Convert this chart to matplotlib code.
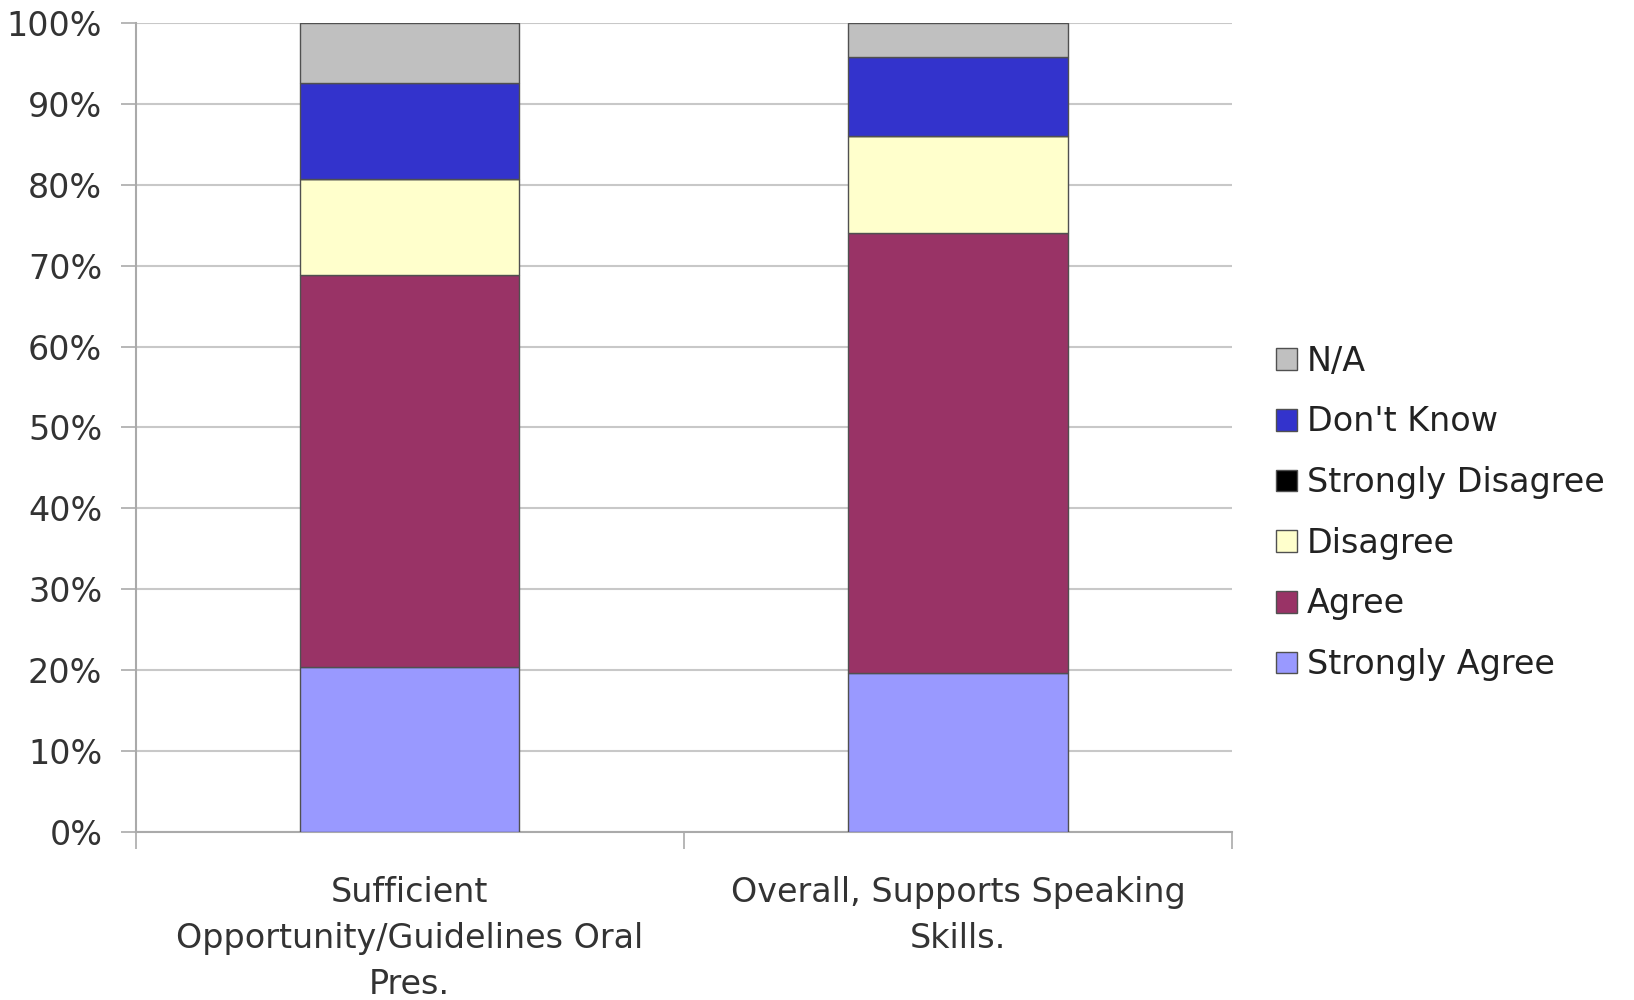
import numpy as np
import matplotlib
matplotlib.use('Agg')
import matplotlib.pyplot as plt

# survey responses, percent of respondents
categories = ['Sufficient\nOpportunity/Guidelines Oral\nPres.',
              'Overall, Supports Speaking\nSkills.']
series = ['Strongly Agree', 'Agree', 'Disagree', 'Strongly Disagree', "Don't Know", 'N/A']
strongly_agree = [20.4, 19.6]
agree = [48.4, 54.4]
disagree = [11.9, 12.0]
strongly_disagree = [0.0, 0.0]
dont_know = [11.9, 9.8]
na = [7.4, 4.2]
values = [strongly_agree, agree, disagree, strongly_disagree, dont_know, na]
colors = ['#9999FF', '#993366', '#FFFFCC', '#000000', '#3333CC', '#C0C0C0']

plt.rcParams['font.family'] = ['DejaVu Sans']
plt.rcParams['font.size'] = 24

fig = plt.figure(figsize=(16.34, 10), dpi=100)
ax = fig.add_axes([0.083, 0.168, 0.671, 0.809])

x = np.arange(len(categories))
bottom = np.zeros(len(categories))
handles = []
for name, vals, col in zip(series, values, colors):
    b = ax.bar(x, vals, 0.4, bottom=bottom, color=col, edgecolor='#505050',
               linewidth=1.0, label=name, zorder=3)
    handles.append(b)
    bottom += np.array(vals)

ax.set_xlim(-0.5, 1.5)
ax.set_ylim(0, 100)
ax.set_yticks(np.arange(0, 101, 10))
ax.set_yticklabels([f'{v}%' for v in range(0, 101, 10)])
ax.yaxis.grid(True, color='#c8c8c8', linewidth=1.5, zorder=0)
ax.set_axisbelow(True)

# category labels between boundary ticks
ax.set_xticks([-0.5, 0.5, 1.5])
ax.set_xticklabels([])
ax.set_xticks(x, minor=True)
ax.set_xticklabels(categories, minor=True, linespacing=1.5, color='#333333')
ax.tick_params(axis='x', which='minor', length=0, pad=32)
ax.tick_params(axis='x', which='major', length=12, color='#aaaaaa', width=1.2)
ax.tick_params(axis='y', length=11, color='#aaaaaa', width=1.2, pad=13, labelcolor='#333333')

for s in ['top', 'right']:
    ax.spines[s].set_visible(False)
for s in ['left', 'bottom']:
    ax.spines[s].set_color('#aaaaaa')
    ax.spines[s].set_linewidth(1.5)

fig.legend(handles[::-1], series[::-1], loc='center left',
           bbox_to_anchor=(0.781, 0.487), frameon=False, fontsize=24,
           borderaxespad=0, borderpad=0,
           handlelength=0.62, handleheight=0.62, handletextpad=0.3,
           labelspacing=0.83, labelcolor='#222222')

fig.savefig('out.png', dpi=100)
